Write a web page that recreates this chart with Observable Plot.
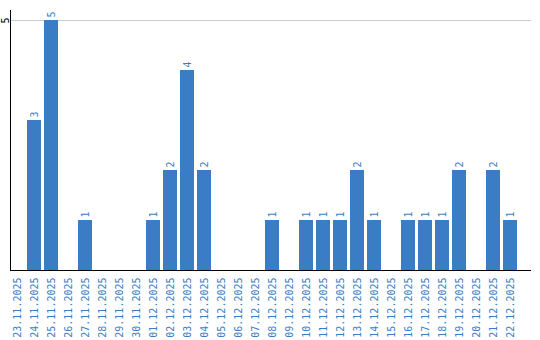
<!DOCTYPE html>
<html>
<head>
<meta charset="utf-8">
<script src="https://cdn.jsdelivr.net/npm/d3@7"></script>
<script src="https://cdn.jsdelivr.net/npm/@observablehq/plot@0.6"></script>
<style>
  html, body { margin: 0; padding: 0; background: #fff; }
</style>
</head>
<body>
<div id="chart"></div>
<script>
const dates = ["23.11.2025","24.11.2025","25.11.2025","26.11.2025","27.11.2025","28.11.2025","29.11.2025","30.11.2025","01.12.2025","02.12.2025","03.12.2025","04.12.2025","05.12.2025","06.12.2025","07.12.2025","08.12.2025","09.12.2025","10.12.2025","11.12.2025","12.12.2025","13.12.2025","14.12.2025","15.12.2025","16.12.2025","17.12.2025","18.12.2025","19.12.2025","20.12.2025","21.12.2025","22.12.2025"];
const counts = [0,3,5,0,1,0,0,0,1,2,4,2,0,0,0,1,0,1,1,1,2,1,0,1,1,1,2,0,2,1];
const yTicks = [5];

const data = dates.map((d, i) => ({date: d, count: counts[i]}));
const blue = "#3b7dc4";
const font = "DejaVu Sans Mono";

const chart = Plot.plot({
  width: 540,
  height: 340,
  marginTop: 10,
  marginBottom: 70,
  marginLeft: 10,
  marginRight: 9,
  style: {fontFamily: font, fontSize: "10px", background: "#fff"},
  x: {domain: dates, range: [8.2, 518.2], paddingInner: 0.18, paddingOuter: 0.09, axis: null},
  y: {domain: [0, 5.2], axis: null},
  marks: [
    Plot.gridY(yTicks, {stroke: "#cccccc", strokeOpacity: 1, strokeWidth: 1}),
    Plot.barY(data, {x: "date", y: "count", fill: blue}),
    Plot.text(data.filter(d => d.count > 0), {
      x: "date", y: "count", text: d => String(d.count),
      rotate: -90, textAnchor: "start", dy: -3, fill: blue,
      fontFamily: font, fontSize: 10
    }),
    Plot.axisX({tickRotate: -90, tickSize: 0, tickPadding: 7, color: blue, fontFamily: font, fontSize: 10, label: null}),
    Plot.text(yTicks, {y: d => d, frameAnchor: "left", dx: -5, rotate: -90, textAnchor: "middle", fill: "#000", fontFamily: font, fontSize: 10}),
    Plot.frame({anchor: "left", stroke: "#000"}),
    Plot.ruleY([0], {stroke: "#000"})
  ]
});
document.getElementById("chart").appendChild(chart);
</script>
</body>
</html>
